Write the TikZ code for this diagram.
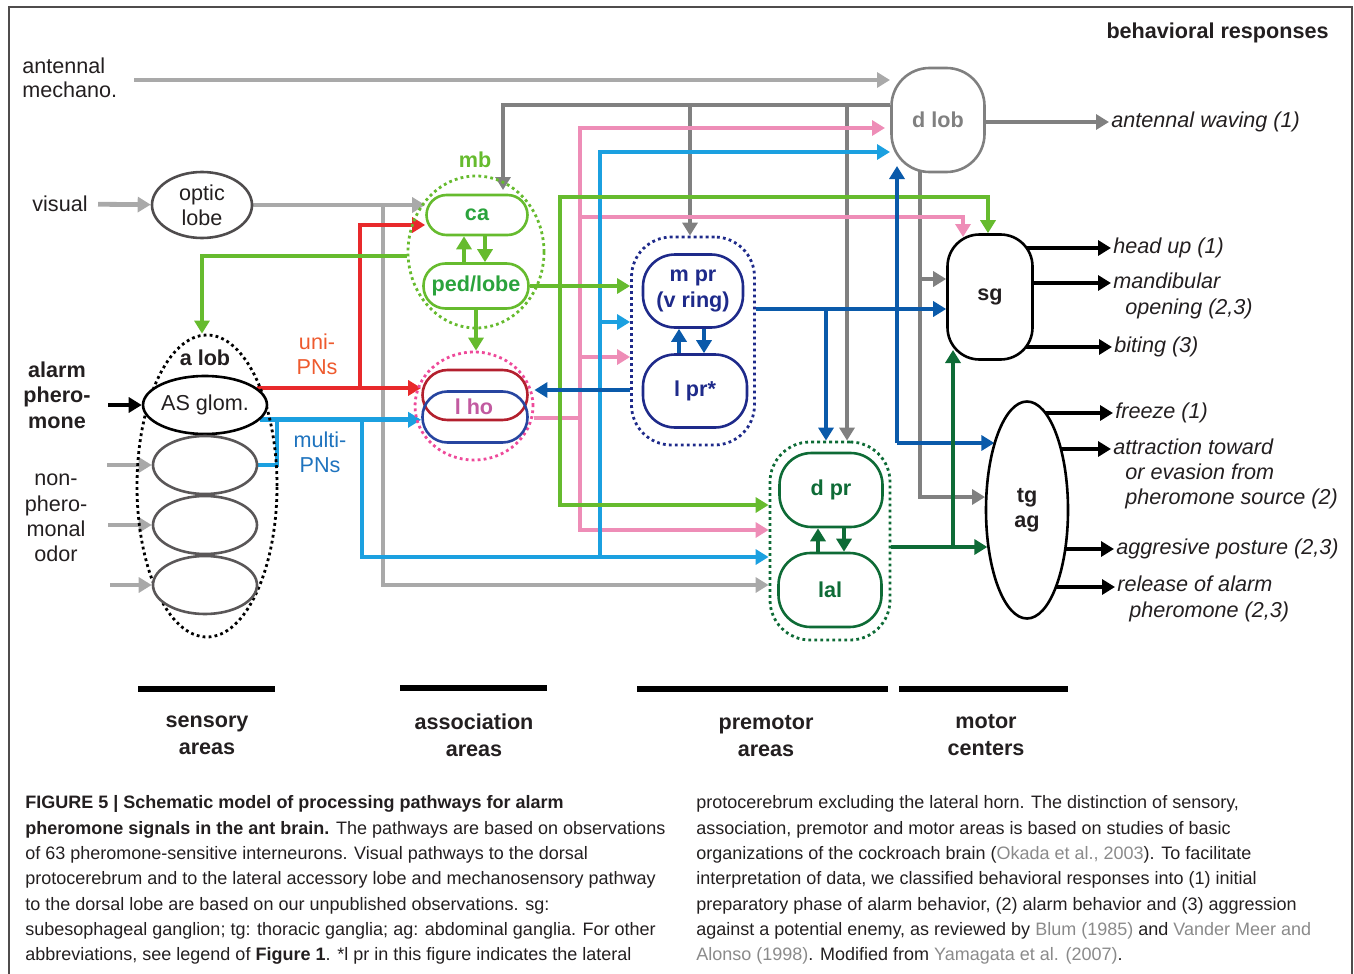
\documentclass[tikz,border=0pt]{standalone}
\usepackage{fontspec}
\setmainfont{Liberation Sans}
\usetikzlibrary{arrows.meta,shapes.geometric,backgrounds}
\definecolor{tx}{HTML}{231F20}
\definecolor{lgc}{HTML}{A9A9A9}
\definecolor{dgc}{HTML}{808080}
\definecolor{pkc}{HTML}{EE8DB7}
\definecolor{lbc}{HTML}{1BA0E0}
\definecolor{dbc}{HTML}{0A5AAA}
\definecolor{nvc}{HTML}{1E2A8A}
\definecolor{glc}{HTML}{66BB2E}
\definecolor{gtc}{HTML}{2AA33C}
\definecolor{dkc}{HTML}{0E6B36}
\definecolor{rdc}{HTML}{E8292B}
\definecolor{unic}{HTML}{EE5A2E}
\definecolor{multic}{HTML}{1E73BE}
\definecolor{lhotc}{HTML}{C25AA0}
\definecolor{lhorc}{HTML}{B3202E}
\definecolor{lhobc}{HTML}{2745A0}
\definecolor{hpc}{HTML}{EE4A9A}
\definecolor{refc}{HTML}{8A8A8A}
\begin{document}
\fontsize{10.8}{12.7}\selectfont%
\begin{tikzpicture}[x=0.5pt,y=-0.5pt,
  every node/.style={inner sep=1pt,text=tx},
  arr/.style={line width=2.4pt,-{Triangle[length=6.5pt,width=7.5pt]}},
  ln/.style={line width=2.4pt},
  bord/.style={draw,line width=1.3pt,fill=white},
  dotc/.style={draw,line width=1.4pt,dash pattern=on 1.4pt off 1.6pt},
  outt/.style={anchor=west,align=left,font=\itshape,inner sep=1pt},
  areal/.style={align=center,font=\bfseries\fontsize{10.8}{13.5}\selectfont},
  capt/.style={anchor=base west,inner sep=0,font=\fontsize{9}{11}\selectfont},
  barl/.style={line width=2.6pt,black}]
\useasboundingbox (0,0) rectangle (1354,974);
\draw[line width=0.7pt,tx!80] (9,974) -- (9,7) -- (1352,7) -- (1352,974);

% ---------- nodes ----------
\node[anchor=east,font=\bfseries] (beh) at (1331,33) {behavioral responses};
\node[anchor=west,align=left] (amech) at (20,78) {antennal\\[-0.5pt]mechano.};
\node (visual) at (60,204) {visual};
\node[font=\bfseries,align=center] (alarm) at (57,395) {alarm\\phero-\\mone};
\node[align=center] (nonph) at (56,518) {non-\\phero-\\monal\\odor};
\node[align=center,text=unic] (uni) at (317,354) {uni-\\PNs};
\node[align=center,text=multic] (multi) at (320,452) {multi-\\PNs};

\node[bord,ellipse,draw=tx!80,minimum width=50pt,minimum height=33pt,inner sep=0,align=center] (optic) at (202,205) {optic\\lobe};

\node[dotc,ellipse,draw=black,minimum width=70pt,minimum height=151pt] (alob) at (207,486) {};
\node[font=\bfseries] (alobl) at (205,358) {a lob};
\node[bord,ellipse,draw=black,minimum width=52pt,minimum height=29pt,inner sep=0] (asg) at (205,405) {AS glom.};
\node[bord,ellipse,draw=tx!75,minimum width=52pt,minimum height=29pt] (g2) at (205,465) {};
\node[bord,ellipse,draw=tx!75,minimum width=52pt,minimum height=29pt] (g3) at (205,525) {};
\node[bord,ellipse,draw=tx!75,minimum width=52pt,minimum height=29pt] (g4) at (205,585) {};

\node[text=glc,font=\bfseries] (mbl) at (475,160) {mb};
\node[dotc,ellipse,draw=glc,minimum width=68pt,minimum height=76pt] (mb) at (476,252) {};
\node[bord,rounded corners=10pt,draw=glc,minimum width=50.5pt,minimum height=20pt,text=gtc,font=\bfseries] (ca) at (477,215) {ca};
\node[bord,rounded corners=11pt,draw=glc,minimum width=52.5pt,minimum height=22.5pt,text=gtc,font=\bfseries] (ped) at (476,286) {ped/lobe};

\node[dotc,ellipse,draw=hpc,minimum width=59pt,minimum height=54pt] (lhoc) at (474,406) {};
\node[draw=lhorc,line width=1.3pt,rounded corners=12.5pt,minimum width=52.5pt,minimum height=25pt] (lhor) at (475,395) {};
\node[draw=lhobc,line width=1.3pt,rounded corners=12.5pt,minimum width=52.5pt,minimum height=25.5pt] (lhob) at (475,417) {};
\node[text=lhotc,font=\bfseries] (lho) at (474,407) {l ho};

\node[dotc,draw=nvc,rounded corners=20pt,minimum width=61.5pt,minimum height=104pt] (mprc) at (693,341) {};
\node[bord,draw=nvc,rounded corners=16pt,minimum width=50pt,minimum height=36.5pt,text=nvc,font=\bfseries,align=center] (mpr) at (693,291) {m pr\\(v ring)};
\node[bord,draw=nvc,rounded corners=16pt,minimum width=52pt,minimum height=36.5pt,text=nvc,font=\bfseries] (lpr) at (695,391) {l pr*};

\node[dotc,draw=dkc,rounded corners=20pt,minimum width=60pt,minimum height=99pt] (dprc) at (830,541) {};
\node[bord,draw=dkc,rounded corners=16pt,minimum width=51.5pt,minimum height=37pt,text=dkc,font=\bfseries] (dpr) at (831,490) {d pr};
\node[bord,draw=dkc,rounded corners=16pt,minimum width=51.5pt,minimum height=37pt,text=dkc,font=\bfseries] (lal) at (830,590) {lal};

\node[bord,draw=dgc,rounded corners=19pt,minimum width=46.5pt,minimum height=52pt,text=dgc,font=\bfseries] (dlob) at (938,120) {d lob};
\node[bord,draw=black,rounded corners=16pt,minimum width=42.5pt,minimum height=62.5pt,font=\bfseries] (sg) at (990,297) {sg};
\node[bord,ellipse,draw=black,minimum width=41pt,minimum height=108.5pt,inner sep=0,font=\bfseries,align=center] (tg) at (1027,510) {tg\\ag};

\node[outt] (aw) at (1109,122) {antennal waving (1)};
\node[outt] (hu) at (1111,248) {head up (1)};
\node[outt] (mo) at (1111,296) {mandibular\\\hspace*{6pt}opening (2,3)};
\node[outt] (bi) at (1112,347) {biting (3)};
\node[outt] (fr) at (1113,413) {freeze (1)};
\node[outt] (attr) at (1111,474) {attraction toward\\\hspace*{6pt}or evasion from\\\hspace*{6pt}pheromone source (2)};
\node[outt] (agp) at (1114,549) {aggresive posture (2,3)};
\node[outt] (rel) at (1115,599) {release of alarm\\\hspace*{6pt}pheromone (2,3)};

\coordinate (rS) at (asg.18.6);
\coordinate (bS) at (asg.-15.6);
\coordinate (amS) at (134,80);
\coordinate (amE) at (890,80);
\coordinate (tgB) at (tg.115.7);
\coordinate (tgG) at (tg.161.5);
\coordinate (tgK) at (tg.-136.1);

% ---------- connectors ----------
\begin{pgfonlayer}{background}
% light gray
\draw[arr,lgc] (amS) -- (amE);
\draw[arr,lgc,shorten <=4pt] (visual) -- (optic);
\draw[arr,lgc] (optic.east) -- (optic.east -| ca.west);
\draw[arr,lgc] (383,205) |- (dprc.west |- 0,585);
\draw[arr,lgc] (g2.west -| 107,0) -- (g2.west);
\draw[arr,lgc] (g3.west -| 108,0) -- (g3.west);
\draw[arr,lgc] (g4.west -| 110,0) -- (g4.west);
% dark gray
\draw[arr,dgc] (dlob.west |- 0,105) -| (503,190);
\draw[arr,dgc] (690,105) -- (mprc.north -| 690,0);
\draw[arr,dgc] (847,105) -- (dprc.north -| 847,0);
\draw[arr,dgc] (dlob.center |- aw.west) -- (aw.west);
\draw[arr,dgc] (920,150) |- (tgG |- 0,497);
\draw[arr,dgc] (920,279) -- (sg.west |- 0,279);
% pink
\draw[ln,pkc] (lhoc.east |- 0,418) -- (580,418);
\draw[arr,pkc] (580,530) |- (885,128);
\draw[arr,pkc] (580,418) |- (dprc.west |- 0,530);
\draw[arr,pkc] (580,217) -| (963,237);
\draw[arr,pkc] (580,357) -- (mprc.west |- 0,357);
% light blue
\draw[arr,lbc] (bS) -- (bS -| lhob.west);
\draw[ln,lbc] (277,418) |- (g2.east);
\draw[arr,lbc] (362,418) |- (dprc.west |- 0,557);
\draw[arr,lbc] (600,557) |- (890,152);
\draw[arr,lbc] (600,322) -- (mprc.west |- 0,322);
% red
\draw[arr,rdc] (rS) -- (rS -| lhor.west);
\draw[arr,rdc] (360,390) |- ([yshift=-5pt]ca.west);
% green
\draw[arr,glc] (560,505) |- (988,197) -- (sg.north -| 988,0);
\draw[arr,glc] (560,197) |- (dprc.west |- 0,505);
\draw[arr,glc] (ped.east) -- (ped.east -| mprc.west);
\draw[arr,glc] (mb.west |- 0,256) -| (alob.north -| 202,0);
\draw[arr,glc] (ped.south) -- (ped.south |- lhoc.north);
\draw[arr,glc] (464,270) -- (ca.south -| 464,0);
\draw[arr,glc] (485,228) -- (ped.north -| 485,0);
% dark blue
\draw[arr,dbc] (mprc.east |- 0,309) -- (sg.west |- 0,309);
\draw[arr,dbc] (826,309) -- (dprc.north -| 826,0);
\draw[arr,dbc] (897,443) -- (897,166);
\draw[arr,dbc] (897,443) -- (tgB |- 0,443);
\draw[arr,dbc] (mprc.west |- 0,390) -- (lhoc.east |- 0,390);
\draw[arr,dbc] (679,360) -- (mpr.south -| 679,0);
\draw[arr,dbc] (704,320) -- (lpr.north -| 704,0);
% dark green
\draw[arr,dkc] (dprc.east |- 0,547) -- (tgK |- 0,547);
\draw[arr,dkc] (953,547) -- (953,350);
\draw[arr,dkc] (818,560) -- (dpr.south -| 818,0);
\draw[arr,dkc] (844,520) -- (lal.north -| 844,0);
% black
\draw[arr,black] (asg.west -| 108,0) -- (asg.west);
\draw[arr,black] (sg.center |- hu.west) -- (hu.west);
\draw[arr,black] (990,283) -- (mo.west |- 0,283);
\draw[arr,black] (sg.center |- bi.west) -- (bi.west);
\draw[arr,black] (tg.center |- fr.west) -- (fr.west);
\draw[arr,black] (1027,449) -- (attr.west |- 0,449);
\draw[arr,black] (tg.center |- agp.west) -- (agp.west);
\draw[arr,black] (1027,587) -- (rel.west |- 0,587);
\end{pgfonlayer}

% ---------- area bars ----------
\node[areal] (sens) at (207,735) {sensory\\areas};
\node[areal] (asso) at (474,735) {association\\areas};
\node[areal] (prem) at (766,736) {premotor\\areas};
\node[areal] (moto) at (986,735) {motor\\centers};
\draw[barl] (138,689) -- (275,689);
\draw[barl] (400,688) -- (547,688);
\draw[barl] (637,689) -- (888,689);
\draw[barl] (899,689) -- (1068,689);

% ---------- caption ----------
\node[capt] (c1) at (25,808) {\textbf{FIGURE 5 | Schematic model of processing pathways for alarm}};
\node[capt] (c2) at (25,834) {\textbf{pheromone signals in the ant brain.} The pathways are based on observations};
\node[capt] (c3) at (25,859) {of 63 pheromone-sensitive interneurons. Visual pathways to the dorsal};
\node[capt] (c4) at (25,884) {protocerebrum and to the lateral accessory lobe and mechanosensory pathway};
\node[capt] (c5) at (25,910) {to the dorsal lobe are based on our unpublished observations. sg:};
\node[capt] (c6) at (25,935) {subesophageal ganglion; tg: thoracic ganglia; ag: abdominal ganglia. For other};
\node[capt] (c7) at (25,960) {abbreviations, see legend of \textbf{Figure 1}. *l pr in this figure indicates the lateral};
\node[capt] (d1) at (696,808) {protocerebrum excluding the lateral horn. The distinction of sensory,};
\node[capt] (d2) at (696,834) {association, premotor and motor areas is based on studies of basic};
\node[capt] (d3) at (696,859) {organizations of the cockroach brain ({\color{refc}Okada et al., 2003}). To facilitate};
\node[capt] (d4) at (696,884) {interpretation of data, we classified behavioral responses into (1) initial};
\node[capt] (d5) at (696,910) {preparatory phase of alarm behavior, (2) alarm behavior and (3) aggression};
\node[capt] (d6) at (696,935) {against a potential enemy, as reviewed by {\color{refc}Blum (1985)} and {\color{refc}Vander Meer and}};
\node[capt] (d7) at (696,960) {{\color{refc}Alonso (1998)}. Modified from {\color{refc}Yamagata et al. (2007)}.};
\end{tikzpicture}
\end{document}
